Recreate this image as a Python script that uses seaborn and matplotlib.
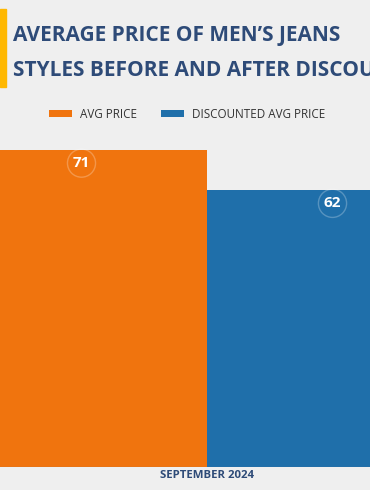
import pandas as pd
import seaborn as sns
from matplotlib import pyplot as plt
from matplotlib.patches import Rectangle

# dados
mes = ['SEPTEMBER 2024']
series = ['AVG PRICE', 'DISCOUNTED AVG PRICE']
precos = [71, 62]
cores = ['#F0740E', '#1F6FAA']

df = pd.DataFrame({'mes': mes * 2, 'serie': series, 'preco': precos})

sns.set_style('white')
plt.rcParams['font.family'] = ['Open Sans', 'DejaVu Sans']

fig = plt.figure(figsize=(3.7, 4.9), dpi=100, facecolor='#EFEFEF')
ax = fig.add_axes([0, 23 / 490, 1, 357 / 490])
ax.set_facecolor('none')

sns.barplot(data=df, x='mes', y='preco', hue='serie', palette=cores,
            width=1.0, saturation=1, linewidth=0, ax=ax, legend=True)

ax.set_xlim(-207 / 502, 163 / 502)
ax.set_ylim(0, 80)
for s in ax.spines.values():
    s.set_visible(False)
ax.axhline(0, color='#6B7B90', lw=0.8)
ax.set_yticks([])
ax.set_xlabel('')
ax.set_ylabel('')
ax.tick_params(axis='x', length=0, pad=2)
for t in ax.get_xticklabels():
    t.set_fontsize(8.2)
    t.set_fontweight('bold')
    t.set_color('#2E4B78')

# rótulos dos valores
for cont in ax.containers:
    for barra in cont:
        h = barra.get_height()
        ax.annotate(f'{h:.0f}', (barra.get_x() + barra.get_width() / 2, h),
                    xytext=(0, -13), textcoords='offset pixels',
                    ha='center', va='center', color='white', fontsize=11, fontweight='bold',
                    bbox=dict(boxstyle='circle,pad=0.35', fc='none', ec='white', alpha=0.25, lw=1))

# legenda
leg = ax.legend(loc='center', bbox_to_anchor=(187 / 370, 1 - 114 / 490),
                bbox_transform=fig.transFigure, ncol=2, frameon=False,
                fontsize=8.4, handlelength=2.0, handleheight=0.5,
                columnspacing=2.0, handletextpad=0.7)
for t in leg.get_texts():
    t.set_color('#333333')

# título
fig.patches.append(Rectangle((0, 1 - 87 / 490), 6 / 370, 78 / 490,
                             transform=fig.transFigure, color='#FFB800'))
fig.text(13 / 370, 1 - 35 / 490, 'AVERAGE PRICE OF MEN\u2019S JEANS', fontsize=15,
         fontweight='bold', color='#2E4B78', va='center', ha='left')
fig.text(13 / 370, 1 - 70 / 490, 'STYLES BEFORE AND AFTER DISCOUNT', fontsize=15,
         fontweight='bold', color='#2E4B78', va='center', ha='left')

plt.savefig('out.png', dpi=100, facecolor=fig.get_facecolor())
